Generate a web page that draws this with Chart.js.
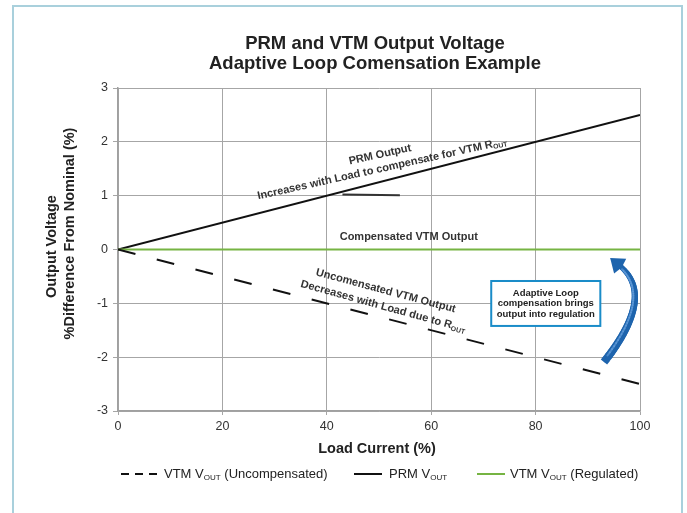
<!DOCTYPE html>
<html><head><meta charset="utf-8">
<script src="https://cdn.jsdelivr.net/npm/chart.js@4"></script>
<style>
html,body{margin:0;padding:0;background:#fff;overflow:hidden;width:687px;height:513px;}
#frame{position:absolute;left:12px;top:5px;height:600px;border:2px solid #a9d0dc;box-sizing:border-box;width:671px;}
#wrap{position:absolute;left:0;top:0;width:687px;height:513px;}
</style></head><body>
<div id="frame"></div>
<div id="wrap"><canvas id="c" width="687" height="513"></canvas></div>
<script>
// ---- data ----
const loadCurrent = [0, 100];
const prmVout = [0, 2.5];
const vtmUncompensated = [0, -2.5];
const vtmRegulated = [0, 0];
const leaderX = [43, 54];
const leaderY = [1.02, 1.01];
const xTickValues = [0, 20, 40, 60, 80, 100];
const yTickValues = [-3, -2, -1, 0, 1, 2, 3];
const titleLines = ['PRM and VTM Output Voltage', 'Adaptive Loop Comensation Example'];
const yTitleLines = ['Output Voltage', '%Difference From Nominal (%)'];
const xTitle = 'Load Current (%)';

const FONT = '"Liberation Sans", Arial, Helvetica, sans-serif';
const pts = (xs, ys) => xs.map((x, i) => ({x, y: ys[i]}));

function drawRich(ctx, parts, size, weight, x, y, align) {
  const sub = size * 0.62;
  let total = 0;
  parts.forEach(p => {
    ctx.font = weight + ' ' + (p.sub ? sub : size) + 'px ' + FONT;
    p.w = ctx.measureText(p.t).width; total += p.w;
  });
  let cx = align === 'left' ? x : x - total / 2;
  ctx.textAlign = 'left'; ctx.textBaseline = 'middle';
  parts.forEach(p => {
    ctx.font = weight + ' ' + (p.sub ? sub : size) + 'px ' + FONT;
    ctx.fillText(p.t, cx, p.sub ? y + size * 0.28 : y);
    cx += p.w;
  });
}

const decor = {
  id: 'decor',
  afterDatasetsDraw(chart) {
    const ctx = chart.ctx, xs = chart.scales.x, ys = chart.scales.y;
    const X = v => xs.getPixelForValue(v), Y = v => ys.getPixelForValue(v);
    ctx.save();
    ctx.fillStyle = '#222';
    // title
    ctx.font = 'bold 18.5px ' + FONT; ctx.textAlign = 'center'; ctx.textBaseline = 'middle';
    ctx.fillText(titleLines[0], 375, 44);
    ctx.fillText(titleLines[1], 375, 64);
    // y title
    ctx.save();
    ctx.font = 'bold 14.5px ' + FONT;
    ctx.translate(52, 246.5); ctx.rotate(-Math.PI / 2); ctx.fillText(yTitleLines[0], 0, 0);
    ctx.restore();
    ctx.save();
    ctx.font = 'bold 14.5px ' + FONT;
    ctx.translate(70, 233.5); ctx.rotate(-Math.PI / 2); ctx.fillText(yTitleLines[1], 0, 0);
    ctx.restore();
    // x title
    ctx.font = 'bold 14.5px ' + FONT; ctx.textAlign = 'center';
    ctx.fillText(xTitle, 377, 449);

    // annotations
    ctx.fillStyle = '#333';
    const rot = (x, y, deg, fn) => { ctx.save(); ctx.translate(X(x), Y(y)); ctx.rotate(deg * Math.PI / 180); fn(); ctx.restore(); };
    rot(50.2, 1.76, -12.5, () => drawRich(ctx, [{t: 'PRM Output'}], 11, 'bold', 0, 0));
    rot(50.6, 1.50, -12.5, () => drawRich(ctx, [{t: 'Increases with Load to compensate for VTM R'}, {t: 'OUT', sub: true}], 11, 'bold', 0, 0));
    drawRich(ctx, [{t: 'Compensated VTM Output'}], 11, 'bold', X(55.7), Y(0.23));
    rot(51.3, -0.77, 15, () => drawRich(ctx, [{t: 'Uncomensated VTM Output'}], 11, 'bold', 0, 0));
    rot(50.8, -1.06, 15.5, () => drawRich(ctx, [{t: 'Decreases with Load due to R'}, {t: 'OUT', sub: true}], 11, 'bold', 0, 0));

    // box
    const bx0 = X(71.5), bx1 = X(92.4), by0 = Y(-0.585), by1 = Y(-1.42);
    ctx.fillStyle = '#fff'; ctx.fillRect(bx0, by0, bx1 - bx0, by1 - by0);
    ctx.strokeStyle = '#1a8cc8'; ctx.lineWidth = 2; ctx.strokeRect(bx0, by0, bx1 - bx0, by1 - by0);
    ctx.fillStyle = '#222'; ctx.font = 'bold 9.5px ' + FONT; ctx.textAlign = 'center'; ctx.textBaseline = 'middle';
    const bcx = (bx0 + bx1) / 2, bcy = (by0 + by1) / 2;
    ctx.fillText('Adaptive Loop', bcx, bcy - 10.5);
    ctx.fillText('compensation brings', bcx, bcy);
    ctx.fillText('output into regulation', bcx, bcy + 10.5);

    // curved arrow
    const P0 = [X(93.1), Y(-2.09)], P1 = [X(103.1), Y(-0.864)], P2 = [X(96.2), Y(-0.31)];
    const B = t => [(1-t)*(1-t)*P0[0] + 2*(1-t)*t*P1[0] + t*t*P2[0], (1-t)*(1-t)*P0[1] + 2*(1-t)*t*P1[1] + t*t*P2[1]];
    ctx.lineCap = 'round';
    const N = 40;
    for (let i = 0; i < N; i++) {
      const a = B(i / N), b = B((i + 1) / N);
      const t = i / N;
      ctx.strokeStyle = '#1e64ad';
      ctx.lineWidth = 8 - 3 * t;
      ctx.lineCap = i === 0 ? 'butt' : 'round';
      ctx.beginPath(); ctx.moveTo(a[0], a[1]); ctx.lineTo(b[0], b[1]); ctx.stroke();
    }
    ctx.lineCap = 'round';
    for (let i = 2; i < N - 2; i++) {
      const a = B(i / N), b = B((i + 1) / N);
      ctx.strokeStyle = 'rgba(110,165,225,0.55)';
      ctx.lineWidth = 2;
      ctx.beginPath(); ctx.moveTo(a[0] - 1.5, a[1]); ctx.lineTo(b[0] - 1.5, b[1]); ctx.stroke();
    }
    let dx = P2[0] - P1[0], dy = P2[1] - P1[1];
    const L = Math.hypot(dx, dy); dx /= L; dy /= L;
    const nx = -dy, ny = dx;
    ctx.fillStyle = '#1e64ad';
    ctx.beginPath();
    ctx.moveTo(P2[0] + dx * 13, P2[1] + dy * 13);
    ctx.lineTo(P2[0] + nx * 9.5, P2[1] + ny * 9.5);
    ctx.lineTo(P2[0] - dx * 2, P2[1] - dy * 2);
    ctx.lineTo(P2[0] - nx * 9.5, P2[1] - ny * 9.5);
    ctx.closePath(); ctx.fill();

    // legend
    const ly = 474;
    ctx.strokeStyle = '#111'; ctx.lineWidth = 2; ctx.lineCap = 'butt';
    ctx.setLineDash([8, 6]);
    ctx.beginPath(); ctx.moveTo(121, ly); ctx.lineTo(159, ly); ctx.stroke();
    ctx.setLineDash([]);
    ctx.beginPath(); ctx.moveTo(354, ly); ctx.lineTo(382, ly); ctx.stroke();
    ctx.strokeStyle = '#76b443';
    ctx.beginPath(); ctx.moveTo(477, ly); ctx.lineTo(505, ly); ctx.stroke();
    ctx.fillStyle = '#222';
    drawRich(ctx, [{t: 'VTM V'}, {t: 'OUT', sub: true}, {t: ' (Uncompensated)'}], 13, 'normal', 164, ly, 'left');
    drawRich(ctx, [{t: 'PRM V'}, {t: 'OUT', sub: true}], 13, 'normal', 389, ly, 'left');
    drawRich(ctx, [{t: 'VTM V'}, {t: 'OUT', sub: true}, {t: ' (Regulated)'}], 13, 'normal', 510, ly, 'left');
    ctx.restore();
  }
};

new Chart(document.getElementById('c'), {
  type: 'line',
  data: {
    datasets: [
      {label: 'VTM VOUT (Uncompensated)', data: pts(loadCurrent, vtmUncompensated), borderColor: '#111', borderWidth: 2, borderDash: [18, 22], pointRadius: 0},
      {label: 'VTM VOUT (Regulated)', data: pts(loadCurrent, vtmRegulated), borderColor: '#76b443', borderWidth: 2, pointRadius: 0},
      {label: 'PRM VOUT', data: pts(loadCurrent, prmVout), borderColor: '#111', borderWidth: 2, pointRadius: 0},
      {label: 'leader', data: pts(leaderX, leaderY), borderColor: '#333', borderWidth: 2, pointRadius: 0}
    ]
  },
  options: {
    responsive: false, animation: false, devicePixelRatio: 1,
    layout: {padding: {left: 0, right: 47, top: 88, bottom: 0}},
    plugins: {legend: {display: false}, title: {display: false}, tooltip: {enabled: false}},
    scales: {
      x: {
        type: 'linear', min: 0, max: 100,
        afterBuildTicks: s => { s.ticks = xTickValues.map(v => ({value: v})); },
        afterFit: s => { s.height = 102; },
        grid: {color: '#a6a6a6', lineWidth: 1, tickLength: 4, drawTicks: true},
        border: {color: '#a0a0a0', width: 1.5},
        ticks: {color: '#333', font: {family: FONT, size: 12.5}, padding: 4, maxRotation: 0}
      },
      y: {
        min: -3, max: 3,
        afterBuildTicks: s => { s.ticks = yTickValues.map(v => ({value: v})); },
        afterFit: s => { s.width = 118; },
        grid: {color: '#a6a6a6', lineWidth: 1, tickLength: 5},
        border: {color: '#a0a0a0', width: 1.5},
        ticks: {color: '#333', font: {family: FONT, size: 12.5}, padding: 5}
      }
    }
  },
  plugins: [decor]
});
</script>
</body></html>
